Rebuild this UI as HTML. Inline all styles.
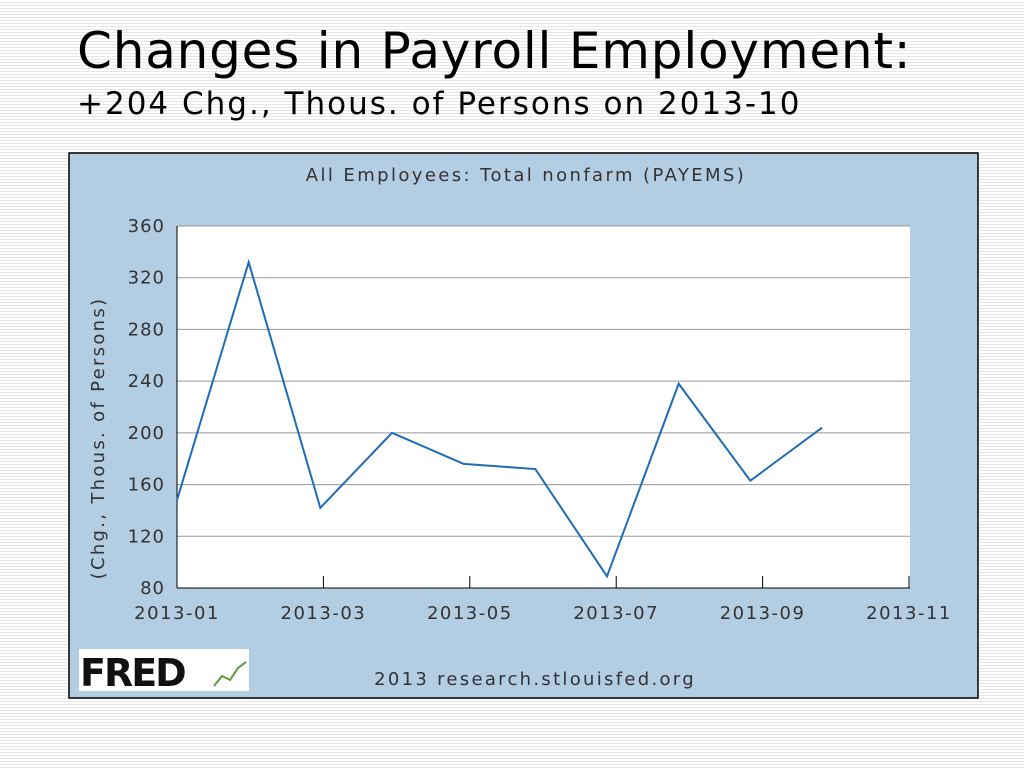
<!DOCTYPE html>
<html><head><meta charset="utf-8">
<style>
body{margin:0;width:1024px;height:768px;overflow:hidden;font-family:"DejaVu Sans",sans-serif;
background:repeating-linear-gradient(to bottom,#ffffff 0px,#ffffff 2px,#e6e6e6 2px,#e6e6e6 3px);}
#t1{position:absolute;left:77px;top:22px;font-size:50px;color:#000;white-space:nowrap;letter-spacing:0.8px}
#t2{position:absolute;left:77px;top:86px;font-size:31px;color:#000;white-space:nowrap;letter-spacing:2px}
svg{position:absolute;left:0;top:0}
svg text{font-family:"DejaVu Sans",sans-serif}
</style></head><body>
<div id="t1">Changes in Payroll Employment:</div>
<div id="t2">+204 Chg., Thous. of Persons on 2013-10</div>
<svg width="1024" height="768" id="chart">
<rect x="69" y="153" width="909" height="545" fill="#b3cde3" stroke="#000" stroke-width="1.5"/>
<text x="526" y="181" font-size="18" letter-spacing="2.4" text-anchor="middle" fill="#333">All Employees: Total nonfarm (PAYEMS)</text>
<rect x="177" y="226" width="733" height="362" fill="#fff"/>
<g id="grid"></g><g id="ticks"></g>
<text transform="translate(104,438) rotate(-90)" font-size="18" letter-spacing="2.3" text-anchor="middle" fill="#333">(Chg., Thous. of Persons)</text>
<polyline id="line" fill="none" stroke="#1f6bb5" stroke-width="2"/>
<rect x="79" y="649" width="170" height="42" fill="#fff"/>
<text x="80" y="686" font-size="38" font-weight="bold" fill="#111" letter-spacing="-2">FRED</text>
<polyline points="214,686 222,676 230,680 238,668 246,662" fill="none" stroke="#5a9a3a" stroke-width="2"/>
<text x="535" y="685" font-size="18" letter-spacing="2.3" text-anchor="middle" fill="#333">2013 research.stlouisfed.org</text>
</svg>
<script>
const months=["2013-01","2013-02","2013-03","2013-04","2013-05","2013-06","2013-07","2013-08","2013-09","2013-10"];
const values=[148,332,142,200,176,172,89,238,163,204];
const yTicks=[80,120,160,200,240,280,320,360];
const xTickLabels=["2013-01","2013-03","2013-05","2013-07","2013-09","2013-11"];
const NS="http://www.w3.org/2000/svg";
const x0=177,x1=910,y0=588,y1=226;
function yScale(v){return y0-(v-80)/(360-80)*(y0-y1);}
function xPoint(i){return x0+i*(822-177)/9;}
function xTick(i){return x0+i*(x1-1-x0)/5;}
const grid=document.getElementById('grid'),ticks=document.getElementById('ticks');
yTicks.forEach(v=>{
 const y=yScale(v);
 const l=document.createElementNS(NS,'line');
 l.setAttribute('x1',x0);l.setAttribute('x2',x1);l.setAttribute('y1',y);l.setAttribute('y2',y);
 l.setAttribute('stroke',v===80?'#000':'#999');l.setAttribute('stroke-width','1');
 
 
 grid.appendChild(l);
 const t=document.createElementNS(NS,'text');
 t.setAttribute('x',165);t.setAttribute('y',y+6);t.setAttribute('text-anchor','end');
 t.setAttribute('font-size','18');t.setAttribute('letter-spacing','1');t.setAttribute('fill','#333');t.textContent=v;
 
 
 ticks.appendChild(t);
});
const ax=document.createElementNS(NS,'line');
ax.setAttribute('x1',x0);ax.setAttribute('x2',x0);ax.setAttribute('y1',y1);ax.setAttribute('y2',y0);ax.setAttribute('stroke','#000');


grid.appendChild(ax);
xTickLabels.forEach((s,i)=>{
 const x=xTick(i);
 const l=document.createElementNS(NS,'line');
 l.setAttribute('x1',x);l.setAttribute('x2',x);l.setAttribute('y1',y0-12);l.setAttribute('y2',y0);l.setAttribute('stroke','#000');
 
 
 ticks.appendChild(l);
 const t=document.createElementNS(NS,'text');
 t.setAttribute('x',x);t.setAttribute('y',619);t.setAttribute('text-anchor','middle');
 t.setAttribute('font-size','18');t.setAttribute('letter-spacing','1.5');t.setAttribute('fill','#333');t.textContent=s;
 
 
 ticks.appendChild(t);
});
document.getElementById('line').setAttribute('points',values.map((v,i)=>xPoint(i)+','+yScale(v)).join(' '));
</script>
</body></html>
